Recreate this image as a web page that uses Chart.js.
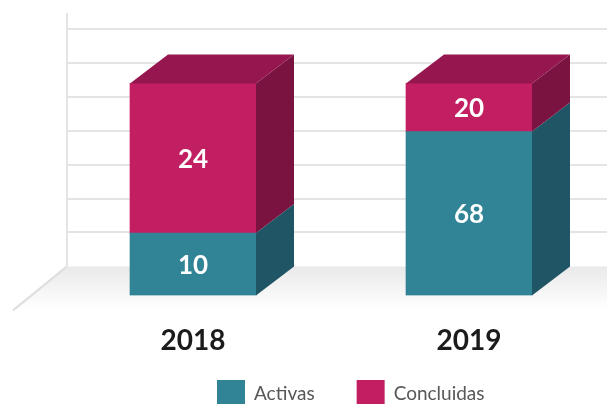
<!DOCTYPE html>
<html>
<head>
<meta charset="utf-8">
<script src="https://cdn.jsdelivr.net/npm/chart.js@4.4.1/dist/chart.umd.min.js"></script>
<style>
  html, body { margin: 0; padding: 0; background: #fff; overflow: hidden; }
</style>
</head>
<body>
<canvas id="projectsChart" width="607" height="404"></canvas>
<script>
const years = ['2018', '2019'];
const activas = [10, 68];
const concluidas = [24, 20];

// bars are drawn as share of the year's total, labels keep the real counts
const shareOf = (list) => list.map((v, i) => v / (activas[i] + concluidas[i]) * 100);

const DX = 38, DY = -29; // depth of the fake 3d boxes

const box3d = {
    id: 'box3d',
    beforeDatasetsDraw(chart) {
        const { ctx, width } = chart;
        const y = chart.scales.y;
        const wallX = chart.chartArea.left + 12;
        const floorY = y.getPixelForValue(0) + DY;

        ctx.save();
        // floor
        const grad = ctx.createLinearGradient(0, floorY, 0, floorY + 42);
        grad.addColorStop(0, '#e9e9e9');
        grad.addColorStop(1, '#ffffff');
        ctx.fillStyle = grad;
        ctx.beginPath();
        ctx.moveTo(wallX, floorY);
        ctx.lineTo(width, floorY);
        ctx.lineTo(width, floorY + 42);
        ctx.lineTo(wallX - 54, floorY + 44);
        ctx.closePath();
        ctx.fill();

        ctx.strokeStyle = '#dedede';
        ctx.lineWidth = 2;
        ctx.beginPath();
        ctx.moveTo(wallX, floorY);
        ctx.lineTo(wallX - 54, floorY + 44);
        ctx.stroke();

        // back wall grid
        const top = y.getPixelForValue(y.max) + DY;
        ctx.strokeStyle = '#e4e4e4';
        ctx.beginPath();
        ctx.moveTo(wallX, floorY);
        ctx.lineTo(wallX, top - 16);
        y.ticks.forEach(t => {
            if (t.value === 0) return;
            const py = Math.round(y.getPixelForValue(t.value) + DY);
            ctx.moveTo(wallX, py);
            ctx.lineTo(width, py);
        });
        ctx.stroke();
        ctx.restore();
    },
    afterDatasetsDraw(chart) {
        const { ctx } = chart;
        const last = chart.data.datasets.length - 1;
        ctx.save();
        chart.data.datasets.forEach((ds, di) => {
            chart.getDatasetMeta(di).data.forEach((bar, i) => {
                const { x, y, base, width } = bar.getProps(['x', 'y', 'base', 'width'], true);
                const left = x - width / 2, right = x + width / 2;
                const top = Math.min(y, base), bottom = Math.max(y, base);

                ctx.fillStyle = ds.sideColor;
                ctx.beginPath();
                ctx.moveTo(right, top);
                ctx.lineTo(right + DX, top + DY);
                ctx.lineTo(right + DX, bottom + DY);
                ctx.lineTo(right, bottom);
                ctx.closePath();
                ctx.fill();

                if (di === last) {
                    ctx.fillStyle = ds.topColor;
                    ctx.beginPath();
                    ctx.moveTo(left, top);
                    ctx.lineTo(left + DX, top + DY);
                    ctx.lineTo(right + DX, top + DY);
                    ctx.lineTo(right, top);
                    ctx.closePath();
                    ctx.fill();
                }

                ctx.fillStyle = '#ffffff';
                ctx.font = 'bold 26px Lato';
                ctx.textAlign = 'center';
                ctx.textBaseline = 'middle';
                ctx.fillText(String(ds.counts[i]), x, (top + bottom) / 2 + 1);
            });
        });
        ctx.restore();
    }
};

const bottomLegend = {
    id: 'bottomLegend',
    afterDraw(chart) {
        const { ctx } = chart;
        let x = 217;
        const boxTop = 380;
        ctx.save();
        ctx.font = '19px Lato';
        ctx.textBaseline = 'middle';
        ctx.textAlign = 'left';
        chart.data.datasets.forEach(ds => {
            ctx.fillStyle = ds.backgroundColor;
            ctx.fillRect(x, boxTop, 28, 28);
            ctx.fillStyle = '#575757';
            ctx.fillText(ds.label, x + 37, boxTop + 14);
            x += 37 + ctx.measureText(ds.label).width + 42;
        });
        ctx.restore();
    }
};

const ctx = document.getElementById('projectsChart').getContext('2d');

const chart = new Chart(ctx, {
    type: 'bar',
    data: {
        labels: years,
        datasets: [{
            label: 'Activas',
            data: shareOf(activas),
            counts: activas,
            backgroundColor: '#318496',
            sideColor: '#1f5565',
            topColor: '#286f80'
        }, {
            label: 'Concluidas',
            data: shareOf(concluidas),
            counts: concluidas,
            backgroundColor: '#c21f63',
            sideColor: '#7a1340',
            topColor: '#96164f'
        }]
    },
    options: {
        responsive: false,
        animation: false,
        layout: {
            padding: { top: 58, left: 55, right: 0, bottom: 17 }
        },
        datasets: {
            bar: { barThickness: 126, borderWidth: 0 }
        },
        scales: {
            x: {
                stacked: true,
                grid: { display: false, drawTicks: false },
                border: { display: false },
                ticks: {
                    padding: 29,
                    color: '#1b1b1b',
                    font: { family: 'Lato', size: 28, weight: 'bold' }
                }
            },
            y: {
                stacked: true,
                display: false,
                min: 0,
                max: 112,
                ticks: { stepSize: 16 }
            }
        },
        plugins: {
            legend: { display: false },
            tooltip: { enabled: false }
        }
    },
    plugins: [box3d, bottomLegend]
});
</script>
</body>
</html>
